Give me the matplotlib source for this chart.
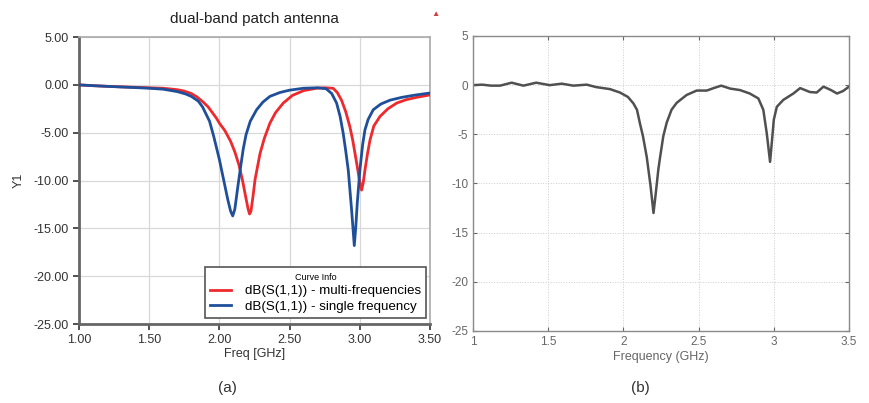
import matplotlib
matplotlib.use("Agg")
import matplotlib.pyplot as plt
from matplotlib.ticker import FormatStrFormatter

plt.rcParams['axes.unicode_minus'] = False
plt.rcParams['font.family'] = ['Liberation Sans', 'DejaVu Sans']

# ---- Panel (a) data ----
blue_f = [1.00, 1.10, 1.20, 1.30, 1.40, 1.50, 1.60, 1.70, 1.76, 1.80, 1.85, 1.88, 1.93, 1.96, 2.00, 2.03,
          2.06, 2.08, 2.095, 2.11, 2.13, 2.15, 2.17, 2.19, 2.22, 2.265, 2.31, 2.36, 2.43, 2.50,
          2.60, 2.70, 2.76, 2.80, 2.835, 2.86, 2.882, 2.90, 2.918, 2.942, 2.961, 2.972, 2.982,
          3.001, 3.02, 3.037, 3.06, 3.096, 3.15, 3.215, 3.30, 3.40, 3.50]
blue_db = [0.0, -0.08, -0.15, -0.22, -0.28, -0.35, -0.45, -0.7, -0.95, -1.2, -1.7, -2.3, -3.8, -5.4, -7.8, -9.9,
           -12.0, -13.2, -13.7, -13.0, -10.8, -8.7, -6.7, -5.2, -3.8, -2.6, -1.8, -1.2, -0.8, -0.55,
           -0.35, -0.3, -0.4, -0.9, -1.9, -3.3, -5.06, -6.9, -8.9, -13.1, -16.8, -14.8, -12.4,
           -8.9, -6.3, -4.7, -3.6, -2.6, -2.0, -1.6, -1.3, -1.05, -0.85]

red_f = [1.00, 1.10, 1.20, 1.30, 1.40, 1.50, 1.60, 1.70, 1.75, 1.80, 1.84, 1.885, 1.92, 1.95, 1.98,
         2.00, 2.04, 2.08, 2.11, 2.14, 2.165, 2.19, 2.205, 2.215, 2.225, 2.24, 2.254, 2.29, 2.32, 2.36,
         2.40, 2.455, 2.52, 2.60, 2.69, 2.75, 2.81, 2.84, 2.87, 2.90, 2.93, 2.95, 2.966, 2.985,
         2.997, 3.013, 3.025, 3.037, 3.055, 3.073, 3.10, 3.144, 3.20, 3.263, 3.33, 3.405, 3.50]
red_db = [0.0, -0.08, -0.15, -0.2, -0.25, -0.3, -0.35, -0.5, -0.65, -0.9, -1.25, -1.8, -2.3, -2.9, -3.5,
          -4.0, -4.8, -5.9, -7.0, -8.4, -10.0, -11.9, -13.0, -13.5, -13.2, -11.6, -9.9, -7.15, -5.6, -4.0,
          -2.9, -1.9, -1.1, -0.6, -0.35, -0.3, -0.35, -0.8, -1.6, -2.8, -4.4, -5.8, -7.15, -8.8,
          -9.9, -11.0, -10.2, -8.9, -7.2, -5.76, -4.3, -3.3, -2.5, -1.9, -1.55, -1.3, -1.05]

a_xticks = [1.00, 1.50, 2.00, 2.50, 3.00, 3.50]
a_yticks = [5.00, 0.00, -5.00, -10.00, -15.00, -20.00, -25.00]
a_labels = ["dB(S(1,1)) - multi-frequencies", "dB(S(1,1)) - single frequency"]

# ---- Panel (b) data ----
meas_f = [1.00, 1.06, 1.12, 1.18, 1.257, 1.335, 1.42, 1.51, 1.59, 1.667, 1.756, 1.82, 1.91, 1.977,
          2.03, 2.066, 2.09, 2.11, 2.13, 2.155, 2.18, 2.20, 2.215, 2.232, 2.243, 2.265, 2.288,
          2.32, 2.354, 2.42, 2.487, 2.554, 2.60, 2.65, 2.71, 2.775, 2.84, 2.897, 2.93, 2.953,
          2.975, 2.992, 3.00, 3.02, 3.063, 3.13, 3.175, 3.24, 3.285, 3.33, 3.38, 3.42, 3.46, 3.50]
meas_db = [0.0, 0.05, -0.05, -0.05, 0.25, -0.05, 0.25, 0.0, 0.15, -0.05, 0.05, -0.2, -0.4, -0.75,
           -1.2, -1.85, -2.5, -3.9, -5.2, -7.3, -10.2, -13.0, -11.0, -8.6, -7.4, -5.2, -3.8,
           -2.5, -1.8, -1.0, -0.55, -0.55, -0.3, -0.05, -0.35, -0.5, -0.85, -1.35, -2.5, -4.9,
           -7.8, -4.9, -3.5, -2.2, -1.5, -0.85, -0.3, -0.7, -0.75, -0.15, -0.5, -0.85, -0.6, -0.15]

b_xticks = [1, 1.5, 2, 2.5, 3, 3.5]
b_xticklabels = ["1", "1.5", "2", "2.5", "3", "3.5"]
b_yticks = [5, 0, -5, -10, -15, -20, -25]

fig = plt.figure(figsize=(8.7, 4.03), dpi=100)

# ---------------- Panel (a) ----------------
ax1 = fig.add_axes([0.0908, 0.196, 0.4034, 0.712])
ax1.plot(red_f, red_db, color='#ee2a2e', lw=2.0, label=a_labels[0], zorder=3)
ax1.plot(blue_f, blue_db, color='#1f4f9a', lw=2.0, label=a_labels[1], zorder=4)
ax1.set_xlim(1.0, 3.5)
ax1.set_ylim(-25, 5)
ax1.set_xticks(a_xticks)
ax1.set_yticks(a_yticks)
ax1.xaxis.set_major_formatter(FormatStrFormatter('%.2f'))
ax1.yaxis.set_major_formatter(FormatStrFormatter('%.2f'))
ax1.grid(True, color='#d8d8d8', lw=0.9)
ax1.set_axisbelow(True)
ax1.tick_params(axis='both', labelsize=9, colors='#333333', length=4, width=1.2, direction='out')
for s in ['left', 'bottom']:
    ax1.spines[s].set_color('#666666')
    ax1.spines[s].set_linewidth(2.0)
for s in ['top', 'right']:
    ax1.spines[s].set_color('#aaaaaa')
    ax1.spines[s].set_linewidth(1.2)
ax1.set_title("dual-band patch antenna", fontsize=11, color='#222222', pad=10)
ax1.set_xlabel("Freq [GHz]", fontsize=9, color='#333333', labelpad=1)
ax1.set_ylabel("Y1", fontsize=9, color='#333333', labelpad=6)
leg = ax1.legend(loc='lower right', bbox_to_anchor=(0.989, 0.02), borderaxespad=0,
                 title="Curve Info",
                 fontsize=9.6, title_fontsize=6.5, frameon=True, fancybox=False,
                 edgecolor='#555555', framealpha=1, handlelength=1.6, borderpad=0.4,
                 labelspacing=0.25, handletextpad=1.0)
leg.get_frame().set_linewidth(1.2)
fig.text(435 / 870, 1 - 15 / 403, "\u25B2", color='#d04040', fontsize=6, ha='center', va='center')
fig.text(227 / 870, 1 - 388 / 403, "(a)", fontsize=11, color='#333333', ha='center', va='center')

# ---------------- Panel (b) ----------------
ax2 = fig.add_axes([0.5437, 0.1787, 0.4322, 0.732])
ax2.plot(meas_f, meas_db, color='#505050', lw=1.8)
ax2.set_xlim(1.0, 3.5)
ax2.set_ylim(-25, 5)
ax2.set_xticks(b_xticks)
ax2.set_xticklabels(b_xticklabels)
ax2.set_yticks(b_yticks)
ax2.grid(True, color='#cccccc', lw=0.7, linestyle=':')
ax2.tick_params(axis='both', labelsize=8.5, colors='#666666', length=3, width=0.8,
                direction='in', top=True, right=True)
for s in ax2.spines.values():
    s.set_color('#8a8a8a')
    s.set_linewidth(1.0)
ax2.set_xlabel("Frequency (GHz)", fontsize=9, color='#666666', labelpad=2)
fig.text(640 / 870, 1 - 388 / 403, "(b)", fontsize=11, color='#333333', ha='center', va='center')

fig.savefig("out.png", dpi=100)
